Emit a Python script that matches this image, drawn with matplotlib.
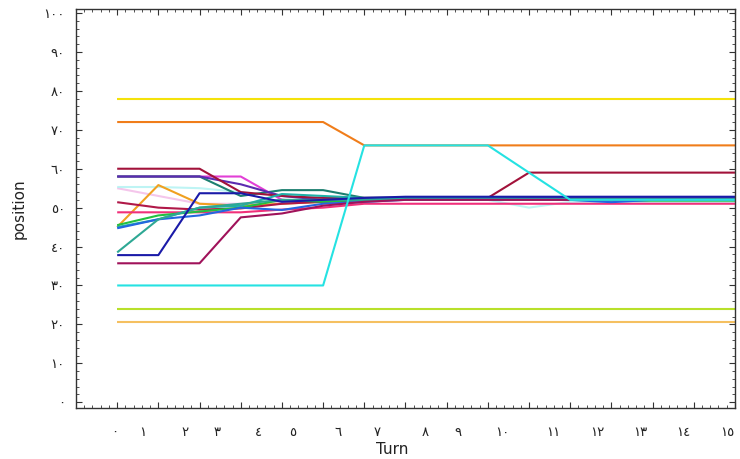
import matplotlib
matplotlib.use("Agg")
import matplotlib.pyplot as plt
import matplotlib.ticker as mticker
from matplotlib.transforms import blended_transform_factory

plt.rcParams["font.family"] = ["DejaVu Sans"]

# --- data -------------------------------------------------------------------
turns = list(range(16))
ar_digits = "٠١٢٣٤٥٦٧٨٩"


def ar(n):
    return "".join(ar_digits[int(c)] for c in str(n))


yellow = [78] * 16
orange = [72, 72, 72, 72, 72, 72, 66, 66, 66, 66, 66, 66, 66, 66, 66, 66]
cyan = [30, 30, 30, 30, 30, 30, 66, 66, 66, 66, 59, 52, 52, 52, 52, 52]
lime = [24] * 16
light_orange = [20.5] * 16
dark_red = [60, 60, 60, 54, 53, 52.5, 52.5, 52.5, 52.5, 52.5, 59, 59, 59, 59, 59, 59]
violet = [58, 58, 58, 56, 53, 52, 52.5, 52.5, 52.5, 52.5, 52.5, 52.5, 52.5, 52.5, 52.5, 52.5]
dark_teal = [58, 58, 58, 53, 54.5, 54.5, 52.5, 52.5, 52.5, 52.5, 52.5, 52.5, 52.5, 52.5, 52.5, 52.5]
magenta = [58, 58, 58, 58, 52, 51.5, 52, 52, 52, 52, 52, 52, 52, 52, 52, 52]
pale_cyan = [55.3, 55.3, 55, 54, 53, 52, 52, 52, 52, 52, 50, 51.5, 51.5, 51.5, 51.5, 51.5]
pale_pink = [55, 53, 51, 51, 51.5, 52, 52, 52, 52, 52, 52, 52, 52, 52, 52, 52]
amber = [45, 55.8, 51, 50.5, 51, 51.5, 52, 52, 52, 52, 52, 52, 52, 52, 52, 52]
crimson = [51.4, 50, 49.5, 49.8, 51, 51.5, 52, 52, 52, 52, 52, 52, 52, 52, 52, 52]
hot_pink = [48.8, 48.8, 48.8, 48.8, 49.5, 50, 51, 51, 51, 51, 51, 51, 51, 51, 51, 51]
green = [45.5, 48, 49, 50, 52, 51.5, 52, 52, 52, 52, 52, 52, 51.8, 51.8, 51.8, 51.8]
teal = [45, 47, 50, 50.5, 53.5, 53, 52.5, 52.5, 52.5, 52.5, 52.3, 52.3, 52.3, 52.3, 52.3, 52.3]
blue = [44.7, 47, 48, 50, 49.4, 51, 51.5, 52, 52, 52, 52, 52, 51.4, 52, 52, 52]
sea_green = [38.5, 47, 50, 51, 52, 52, 52, 52, 52, 52, 52, 52, 52, 52, 52, 52]
navy = [37.8, 37.8, 53.7, 53.7, 51.5, 52, 52.5, 52.8, 52.8, 52.8, 52.8, 52.8, 52.8, 52.8, 52.8, 52.8]
plum = [35.7, 35.7, 35.7, 47.5, 48.5, 50.5, 51.5, 52, 52, 52, 52, 52, 52, 52, 52, 52]

series = [
    (pale_pink, "#f2b8e6", 0.8),
    (pale_cyan, "#aef2f2", 0.8),
    (yellow, "#f4e20a", 1.0),
    (orange, "#f07d1a", 1.0),
    (lime, "#b8e02a", 1.0),
    (light_orange, "#f5c060", 1.0),
    (magenta, "#e23fd6", 1.0),
    (dark_teal, "#1c7f70", 1.0),
    (violet, "#5b2bb0", 1.0),
    (dark_red, "#a2123a", 1.0),
    (amber, "#f0a020", 1.0),
    (crimson, "#b01848", 1.0),
    (hot_pink, "#f0307a", 1.0),
    (green, "#22c040", 1.0),
    (teal, "#20b0a8", 1.0),
    (blue, "#2466e0", 1.0),
    (sea_green, "#2ea894", 1.0),
    (navy, "#1a1aa8", 1.0),
    (plum, "#a0125a", 1.0),
    (cyan, "#25e2e2", 1.0),
]

# where the turn labels sit (they drift off the tick marks in the reference)
TURN_LABEL_X = [-0.07, 0.63, 1.65, 2.43, 3.42, 4.27, 5.36, 6.31,
                7.48, 8.28, 9.34, 10.58, 11.65, 12.69, 13.74, 14.81]

# --- plot -------------------------------------------------------------------
fig = plt.figure(figsize=(7.4, 4.59), dpi=100, facecolor="white")
ax = fig.add_axes([0.1027, 0.111, 0.8905, 0.869])

for values, color, alpha in series:
    ax.plot(turns, values, color=color, linewidth=1.5, alpha=alpha, solid_capstyle="butt")

ax.set_xlim(-1, 15)
ax.set_ylim(-1.5, 101)

ax.set_yticks(range(0, 101, 10))
ax.set_yticklabels([ar(v) for v in range(0, 101, 10)])
ax.yaxis.set_minor_locator(mticker.MultipleLocator(2))
ax.set_xticks(turns)
ax.xaxis.set_minor_locator(mticker.MultipleLocator(0.2))

ax.tick_params(axis="both", which="both", direction="in", top=True, right=True,
               color="#333333")
ax.tick_params(axis="both", which="major", length=4, width=0.8)
ax.tick_params(axis="both", which="minor", length=2, width=0.6)
ax.tick_params(axis="x", labelbottom=False)
ax.tick_params(axis="y", labelsize=9.5, pad=8, labelcolor="#222222")

trans = blended_transform_factory(ax.transData, ax.transAxes)
for t, xpos in zip(turns, TURN_LABEL_X):
    ax.text(xpos, -0.045, ar(t), transform=trans, ha="center", va="top",
            fontsize=9.5, color="#222222")

for spine in ax.spines.values():
    spine.set_color("#333333")
    spine.set_linewidth(1.0)

ax.set_ylabel("position", fontsize=11, color="#222222", labelpad=12)
ax.set_xlabel("Turn", fontsize=11, color="#222222", labelpad=18)
ax.xaxis.set_label_coords(0.48, -0.085)

fig.savefig("out.png", dpi=100, facecolor="white")
